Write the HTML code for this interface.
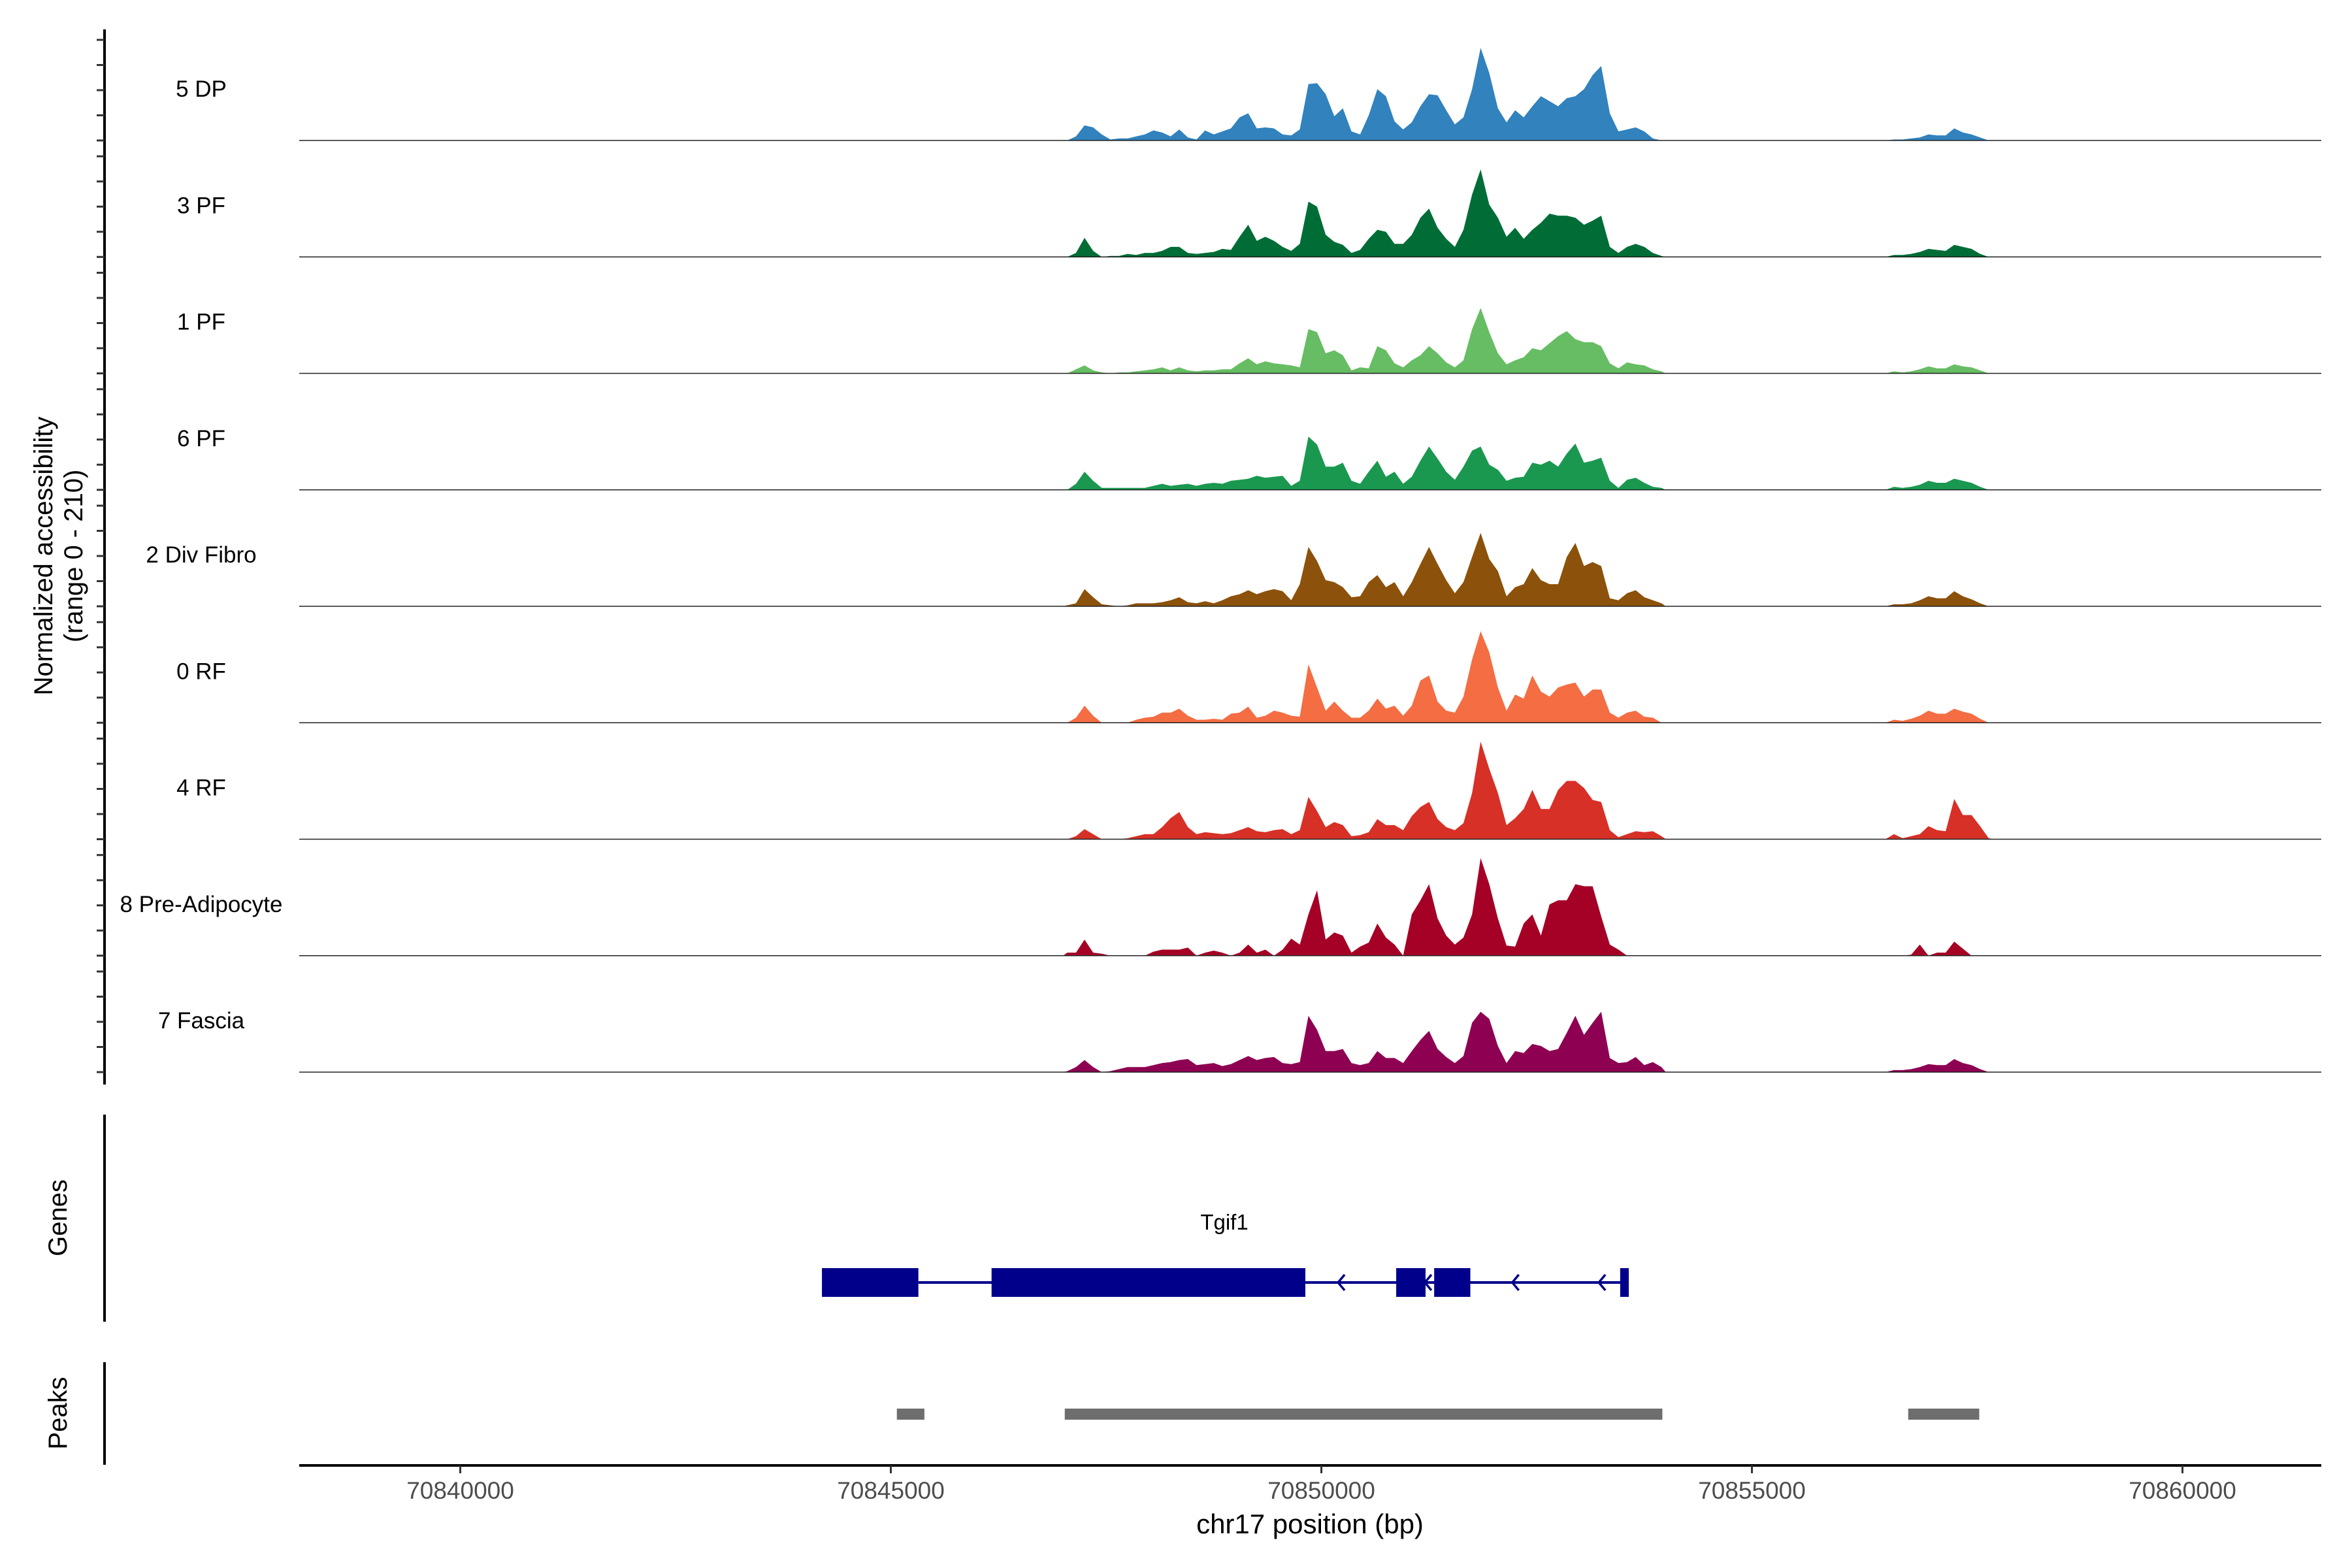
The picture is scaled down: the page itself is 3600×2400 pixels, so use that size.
<!DOCTYPE html>
<html><head><meta charset="utf-8"><style>
html,body{margin:0;padding:0;background:#fff;}
svg{display:block;font-family:"Liberation Sans",Arial,sans-serif;}
</style></head><body>
<svg id="chart" xmlns="http://www.w3.org/2000/svg" width="3600" height="2400" viewBox="0 0 3600 2400">
<g id="tracks"></g>
<g id="yaxis"></g>
<text transform="translate(80,851) rotate(-90)" text-anchor="middle" font-size="40" fill="#000">Normalized accessibility</text>
<text transform="translate(126,851) rotate(-90)" text-anchor="middle" font-size="40" fill="#000">(range 0 - 210)</text>
<line x1="160" y1="1706" x2="160" y2="2023" stroke="#000" stroke-width="4"/>
<text transform="translate(102,1864) rotate(-90)" text-anchor="middle" font-size="40" fill="#000">Genes</text>
<line x1="160" y1="2085" x2="160" y2="2242" stroke="#000" stroke-width="4"/>
<text transform="translate(102,2163) rotate(-90)" text-anchor="middle" font-size="40" fill="#000">Peaks</text>
<g id="gene"></g>
<g id="peaks"></g>
<g id="xaxis"></g>
<text x="2005" y="2347" text-anchor="middle" font-size="42" fill="#000">chr17 position (bp)</text>
</svg>
<script>
const trackNames = ["5 DP","3 PF","1 PF","6 PF","2 Div Fibro","0 RF","4 RF","8 Pre-Adipocyte","7 Fascia"];
const trackColors = ["#3182BD","#006D37","#66BD63","#1A9850","#8C510A","#F46D43","#D73027","#A50026","#8E0152"];
const mainStart = 70847000;
const binSize = 100;
const sigDP5 = [0,4,15,13,6,1,2,2,4,6,10,8,4,11,3,1,10,6,9,12,23,27,12,13,12,6,5,11,56,57,46,24,32,9,6,25,51,44,19,11,18,34,46,45,30,16,23,51,92,67,32,18,30,23,34,44,39,34,42,44,51,65,74,27,9,11,13,9,2,0];
const sigPF3 = [0,4,19,6,0,1,1,3,2,4,4,6,10,10,4,3,4,5,8,7,20,32,16,20,16,10,6,13,55,50,22,15,12,4,7,18,27,25,13,13,22,39,48,29,18,10,27,62,87,52,39,20,29,18,27,34,43,41,41,39,32,36,41,10,4,10,13,10,4,1];
const sigPF1 = [0,4,8,3,1,0,1,1,2,3,4,6,3,6,3,2,3,3,4,4,10,15,9,12,10,9,8,6,44,41,20,23,18,3,6,5,27,23,10,6,13,18,27,20,11,6,13,44,65,41,20,9,13,16,25,23,30,37,42,34,31,31,27,10,5,11,9,8,4,2];
const sigPF6 = [0,6,18,9,2,2,2,2,2,2,4,6,4,5,6,4,6,7,6,9,10,11,14,12,13,14,4,9,53,45,23,23,27,9,6,18,29,13,18,6,13,29,43,31,18,10,23,39,43,25,20,9,12,13,27,25,29,23,36,46,27,29,32,9,2,10,12,7,3,2];
const sigDiv2 = [1,3,17,9,2,1,0,1,3,3,3,4,6,9,4,3,5,3,6,10,12,16,12,15,17,15,6,22,59,45,26,24,19,9,10,24,31,19,24,10,24,42,59,42,26,13,24,49,73,47,35,10,19,22,38,26,22,22,49,63,40,44,40,8,6,13,16,9,6,3];
const sigRF0 = [0,5,17,7,0,0,0,0,3,5,6,10,10,14,7,3,3,4,3,9,10,16,5,7,12,10,7,6,58,35,12,21,12,5,5,12,24,14,17,7,17,42,47,21,12,10,26,63,91,70,35,12,28,24,47,31,26,35,38,40,26,33,33,10,5,10,12,6,5,0];
const sigRF4 = [0,3,10,5,0,0,0,1,3,5,5,12,21,27,12,5,7,6,5,6,9,12,8,7,9,10,5,9,42,28,12,17,14,3,4,7,20,14,14,9,23,32,37,20,12,9,16,46,97,70,46,14,21,30,49,30,30,49,58,58,51,39,37,9,2,5,8,7,8,3];
const sigPre8 = [3,3,16,3,2,0,0,0,0,0,4,6,6,6,8,0,3,5,3,0,3,11,3,6,0,6,17,11,41,65,16,23,20,3,9,13,32,18,11,0,41,55,71,37,20,11,18,41,97,71,37,10,9,32,41,20,51,55,55,71,69,69,39,11,6,0,0,0,0,0];
const sigFas7 = [1,5,12,5,0,1,3,5,5,5,7,9,10,12,13,7,8,9,6,8,12,16,12,14,15,9,8,10,56,42,21,21,23,9,7,9,21,14,14,9,21,32,41,23,15,9,16,49,60,53,26,9,21,19,28,26,21,23,39,56,37,49,60,14,9,10,15,7,10,5];
const sideStart = 70856500;
const sideDP5 = [0,1,1,2,3,6,5,5,12,8,6,3,0];
const sidePF3 = [0,2,2,3,5,8,7,6,12,10,8,3,0];
const sidePF1 = [0,2,1,2,4,7,5,5,9,7,6,3,0];
const sidePF6 = [0,3,2,3,5,9,7,7,11,9,7,3,0];
const sideDiv2 = [0,2,2,3,6,10,8,8,15,10,7,3,0];
const sideRF0 = [0,3,2,4,7,12,9,9,14,11,9,4,0];
const sideRF4 = [0,5,1,3,5,13,9,8,40,24,24,13,1];
const sidePre8 = [0,0,0,1,11,0,3,3,14,7,0,0,0];
const sideFas7 = [0,2,2,3,5,8,7,7,13,9,7,3,0];
const mainSeries = [sigDP5,sigPF3,sigPF1,sigPF6,sigDiv2,sigRF0,sigRF4,sigPre8,sigFas7];
const sideSeries = [sideDP5,sidePF3,sidePF1,sidePF6,sideDiv2,sideRF0,sideRF4,sidePre8,sideFas7];
const xTicks = [70840000,70845000,70850000,70855000,70860000];
const exons = [[70844200,70845320],[70846170,70849814],[70850869,70851210],[70851310,70851730],[70853470,70853570]];
const geneSpan = [70845320,70853570];
const strandArrows = [70850232,70851240,70852255,70853260];
const peakRanges = [[70845070,70845390],[70847020,70853960],[70856815,70857640]];

const NS = "http://www.w3.org/2000/svg";
function xs(bp){ return 704.5 + (bp - 70840000) * 0.1318; }
const X0 = 458, X1 = 3553, trackH = 154;
function base(i){ return 215 + i * 178.25; }
function ys(i, v){ return base(i) - v / 100 * trackH; }
function mk(tag, attrs, parent){ const e = document.createElementNS(NS, tag); for (const k in attrs) e.setAttribute(k, attrs[k]); parent.appendChild(e); return e; }

const tracks = document.getElementById('tracks');
trackNames.forEach((name, i) => {
  const g = mk('g', {}, tracks);
  
  
  const lbl = mk('text', {x: 308, y: base(i) - 67, 'text-anchor': 'middle', 'font-size': 35, fill: '#000'}, g);
  lbl.textContent = name;
  
  
  [[mainStart, mainSeries[i]], [sideStart, sideSeries[i]]].forEach(([start, arr]) => {
    let d = 'M' + xs(start).toFixed(1) + ',' + base(i);
    arr.forEach((v, k) => { d += ' L' + xs(start + k * binSize + binSize / 2).toFixed(1) + ',' + ys(i, v).toFixed(1); });
    d += ' L' + xs(start + arr.length * binSize).toFixed(1) + ',' + base(i) + ' Z';
    const p = mk('path', {d: d, fill: trackColors[i]}, g);
    
    
  });
  const bl = mk('line', {x1: X0, x2: X1, y1: base(i), y2: base(i), stroke: '#222', 'stroke-width': 1.5}, g);
  
  
});

const yaxis = document.getElementById('yaxis');
const yl = mk('line', {x1: 160, x2: 160, y1: 45, y2: 1660, stroke: '#000', 'stroke-width': 4}, yaxis);


trackNames.forEach((n, i) => {
  for (let k = 0; k <= 4; k++) {
    const y = base(i) - k * trackH / 4;
    const t = mk('line', {x1: 148, x2: 160, y1: y, y2: y, stroke: '#333', 'stroke-width': 3}, yaxis);
    
    
  }
});

const gene = document.getElementById('gene');
const gl = mk('text', {x: 1874, y: 1882, 'text-anchor': 'middle', 'font-size': 33, fill: '#000'}, gene);
gl.textContent = 'Tgif1';


const intron = mk('line', {x1: xs(geneSpan[0]), x2: xs(geneSpan[1]), y1: 1963, y2: 1963, stroke: '#00008B', 'stroke-width': 4}, gene);


exons.forEach(e => {
  const r = mk('rect', {x: xs(e[0]), y: 1941, width: Math.max(4, xs(e[1]) - xs(e[0])), height: 44, fill: '#00008B'}, gene);
  
  
});
strandArrows.forEach(a => {
  const x = xs(a);
  const p = mk('path', {d: 'M' + (x + 5) + ',1951 L' + (x - 5) + ',1963 L' + (x + 5) + ',1975', stroke: '#00008B', 'stroke-width': 3.5, fill: 'none'}, gene);
  
  
});

const peaks = document.getElementById('peaks');
peakRanges.forEach(pr => {
  const r = mk('rect', {x: xs(pr[0]), y: 2156, width: xs(pr[1]) - xs(pr[0]), height: 17, fill: '#6E6E6E'}, peaks);
  
  
});

const xaxis = document.getElementById('xaxis');
const xl = mk('line', {x1: X0, x2: X1, y1: 2243, y2: 2243, stroke: '#000', 'stroke-width': 4}, xaxis);


xTicks.forEach(t => {
  const x = xs(t);
  const tk = mk('line', {x1: x, x2: x, y1: 2243, y2: 2255, stroke: '#333', 'stroke-width': 3}, xaxis);
  
  
  const tl = mk('text', {x: x, y: 2294, 'text-anchor': 'middle', 'font-size': 37, fill: '#4D4D4D'}, xaxis);
  tl.textContent = String(t);
  
  
});
</script>
</body></html>
